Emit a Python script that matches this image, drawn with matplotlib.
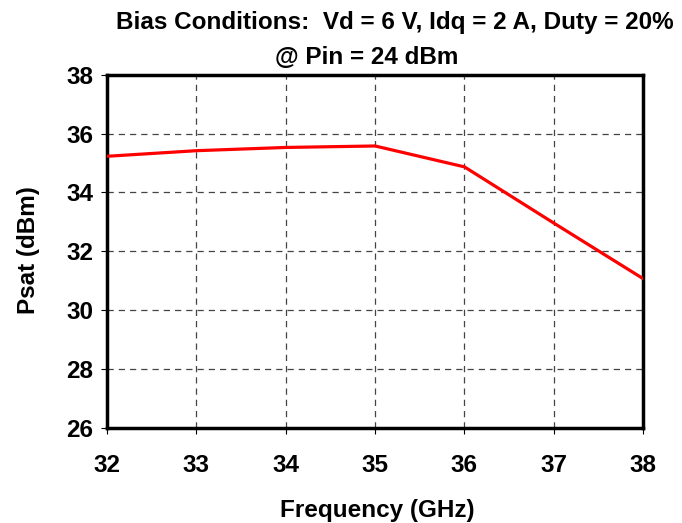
import matplotlib
matplotlib.use('Agg')
import matplotlib.pyplot as plt

freq = [32, 33, 34, 35, 36, 37, 38]
psat = [35.23, 35.42, 35.53, 35.58, 34.87, 32.96, 31.07]

plt.rcParams['font.family'] = 'Liberation Sans'
plt.rcParams['font.weight'] = 'bold'
fs = 17.5

fig = plt.figure(figsize=(6.82, 5.23), dpi=100)
ax = fig.add_axes([0.157, 0.182, 0.786, 0.675])

ax.plot(freq, psat, color='#ff0000', linewidth=2.3, zorder=3)

ax.set_xlim(32, 38)
ax.set_ylim(26, 38)
ax.set_xticks(freq)
ax.set_yticks([26, 28, 30, 32, 34, 36, 38])
ax.grid(True, linestyle=(0, (5, 4)), color='#444444', linewidth=0.9)
for s in ax.spines.values():
    s.set_linewidth(2.5)
ax.tick_params(direction='out', length=4, width=0.8, labelsize=fs)
ax.tick_params(axis='x', pad=15)
ax.tick_params(axis='y', pad=6)
for lab in ax.get_xticklabels() + ax.get_yticklabels():
    lab.set_fontweight('bold')

# labels / title placed in pixel terms of the 682x523 figure
fig.text(377 / 682, 1 - 510 / 523, 'Frequency (GHz)', fontsize=fs,
         fontweight='bold', ha='center', va='center')
fig.text(28 / 682, 1 - 250 / 523, 'Psat (dBm)', fontsize=fs,
         fontweight='bold', ha='center', va='center', rotation=90)
fig.text(395 / 682, 1 - 22 / 523, 'Bias Conditions:  Vd = 6 V, Idq = 2 A, Duty = 20%',
         fontsize=fs, fontweight='bold', ha='center', va='center')
fig.text(367 / 682, 1 - 57 / 523, '@ Pin = 24 dBm',
         fontsize=fs, fontweight='bold', ha='center', va='center')

fig.savefig('out.png', dpi=100)
